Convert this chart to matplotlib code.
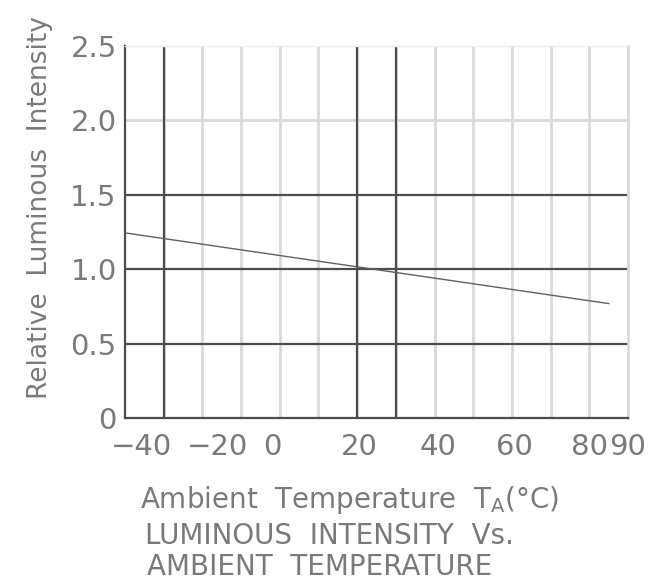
import numpy as np
import matplotlib
matplotlib.use("Agg")
import matplotlib.pyplot as plt

# curve (temperature in deg C, relative intensity)
temp = [-40, 85]
rel_lum = [1.244, 0.769]

# tick labels as printed (positions follow the printed sheet)
xtick_pos = [-35.8, -16, -2, 20.5, 40.8, 60.6, 80, 90]
xtick_lbl = ["\u221240", "\u221220", "0", "20", "40", "60", "80", "90"]
ytick_pos = [0, 0.5, 1.0, 1.5, 2.0, 2.5]
ytick_lbl = ["0", "0.5", "1.0", "1.5", "2.0", "2.5"]

grid_x = np.arange(-30, 90, 10)
bold_x = [-30, 20, 30]
bold_y = [0.5, 1.0, 1.5]

txt = "#7a7a7a"
dark = "#4c4c4c"
light = "#d9d9d9"

plt.rcParams['font.family'] = ['DejaVu Sans']
fig = plt.figure(figsize=(6.7, 5.8), dpi=100)
ax = fig.add_axes([125/670, 1 - 418/580, 503/670, 372/580])

ax.set_xlim(-40, 90)
ax.set_ylim(0, 2.5)

for x in grid_x:
    ax.axvline(x, color=light, lw=2.0, zorder=1)
ax.axhline(2.0, color=light, lw=2.0, zorder=1)
for x in bold_x:
    ax.axvline(x, color=dark, lw=1.6, zorder=2)
for y in bold_y:
    ax.axhline(y, color=dark, lw=1.6, zorder=2)

ax.plot(temp, rel_lum, color="#606060", lw=1.0, zorder=3)

ax.set_xticks(xtick_pos)
ax.set_xticklabels(xtick_lbl)
ax.set_yticks(ytick_pos)
ax.set_yticklabels(ytick_lbl)
ax.tick_params(length=0, labelsize=21, labelcolor=txt)
ax.tick_params(axis='x', pad=11)
ax.tick_params(axis='y', pad=6)

for s in ['left', 'bottom']:
    ax.spines[s].set_color(dark)
    ax.spines[s].set_linewidth(1.6)
ax.spines['right'].set_color(light)
ax.spines['right'].set_linewidth(2.0)
ax.spines['top'].set_color("#ececec")
ax.spines['top'].set_linewidth(1.0)

ax.set_ylabel("Relative  Luminous  Intensity", fontsize=19, color=txt)
ax.yaxis.set_label_coords(-0.143, 0.566)

fig.text(140/670, 1 - 500/580, "Ambient  Temperature  T$_\\mathregular{A}$(\u00b0C)",
         fontsize=20, color=txt, va='center', ha='left')
fig.text(145/670, 1 - 536/580, "LUMINOUS  INTENSITY  Vs.",
         fontsize=20, color=txt, va='center', ha='left')
fig.text(147/670, 1 - 567/580, "AMBIENT  TEMPERATURE",
         fontsize=20, color=txt, va='center', ha='left')

fig.savefig("out.png", dpi=100)
